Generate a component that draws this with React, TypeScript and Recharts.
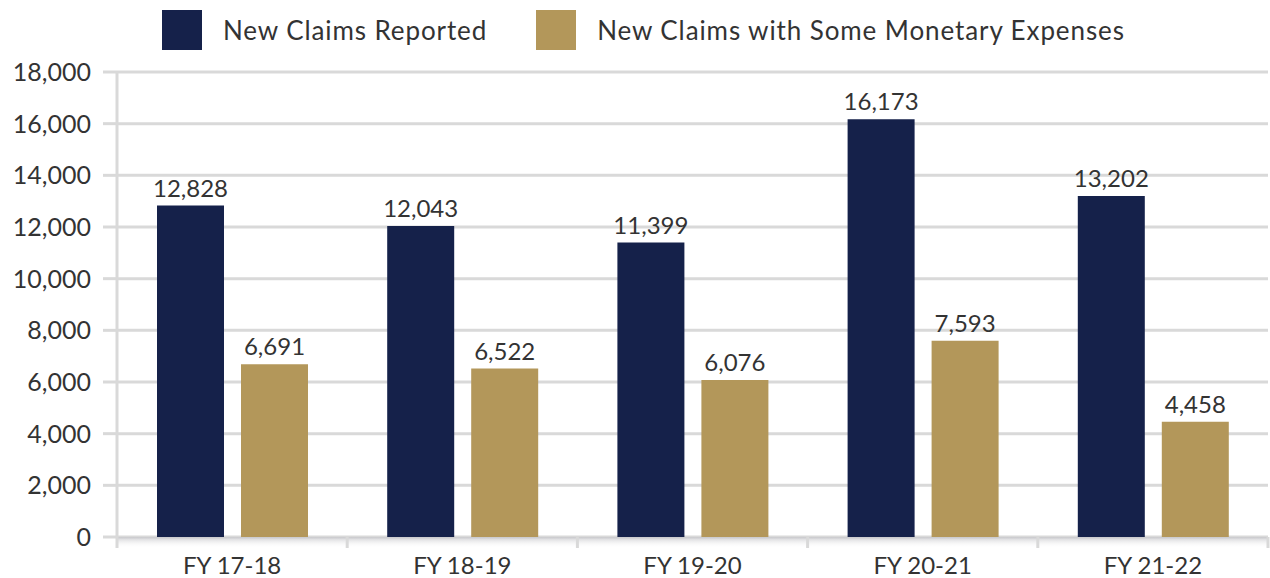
import { Bar, BarChart, CartesianGrid, LabelList, Legend, XAxis, YAxis } from "recharts";

const years = ["FY 17-18", "FY 18-19", "FY 19-20", "FY 20-21", "FY 21-22"];
const claimsReported = [12828, 12043, 11399, 16173, 13202];
const claimsWithExpenses = [6691, 6522, 6076, 7593, 4458];
const yTicks = [0, 2000, 4000, 6000, 8000, 10000, 12000, 14000, 16000, 18000];

const seriesNames = ["New Claims Reported", "New Claims with Some Monetary Expenses"];
const NAVY = "#15214a";
const GOLD = "#b3975a";
const GRID = "#d9d9d9";
const TEXT = "#333333";
const FONT = "Lato, 'Open Sans', sans-serif";

const W = 1270;
const H = 578;
const MARGIN = { top: 12, right: 2, bottom: 0, left: 0 };
const Y_AXIS_W = 117;
const STEP = (W - MARGIN.left - MARGIN.right - Y_AXIS_W) / years.length;

const data = years.map((year, i) => ({
  year,
  reported: claimsReported[i],
  expenses: claimsWithExpenses[i],
}));

const fmt = (v: number) => v.toLocaleString("en-US");

function LegendRow() {
  const items = [
    { name: seriesNames[0], color: NAVY },
    { name: seriesNames[1], color: GOLD },
  ];
  return (
    <div
      style={{
        height: 60,
        display: "flex",
        alignItems: "center",
        paddingLeft: 162,
        fontFamily: FONT,
        fontSize: 26,
        color: TEXT,
        letterSpacing: 0.9,
      }}
    >
      {items.map((it, i) => (
        <div key={it.name} style={{ display: "flex", alignItems: "center", marginRight: i === 0 ? 49 : 0 }}>
          <span style={{ width: 40, height: 40, background: it.color, display: "inline-block", marginRight: 21 }} />
          <span>{it.name}</span>
        </div>
      ))}
    </div>
  );
}

// category label plus the shaded floor and boundary ticks under each category
function CategoryTick(props: any) {
  const { x, y, payload, index } = props;
  const left = x - STEP / 2;
  const right = x + STEP / 2;
  return (
    <g>
      <rect x={left} y={y} width={STEP} height={11} fill="url(#floorShade)" />
      <line x1={left} x2={left} y1={y} y2={y + 11} stroke={GRID} strokeWidth={3} />
      {index === years.length - 1 && (
        <line x1={right} x2={right} y1={y} y2={y + 11} stroke={GRID} strokeWidth={3} />
      )}
      <text x={x} y={y + 37} textAnchor="middle" fill={TEXT} fontSize={24} fontFamily={FONT}>
        {payload.value}
      </text>
    </g>
  );
}

export default function App() {
  return (
    <div style={{ position: "absolute", left: 0, top: 0, width: W, height: H, background: "#fff" }}>
      <BarChart width={W} height={H} data={data} margin={MARGIN} barGap={17}>
        <defs>
          <linearGradient id="floorShade" x1="0" y1="0" x2="0" y2="1">
            <stop offset="0%" stopColor="#c8c8cc" stopOpacity={0.9} />
            <stop offset="100%" stopColor="#ffffff" stopOpacity={0} />
          </linearGradient>
        </defs>
        <Legend verticalAlign="top" content={() => <LegendRow />} wrapperStyle={{ top: 0, left: 0, width: W }} />
        <CartesianGrid vertical={false} stroke={GRID} strokeWidth={3} />
        <XAxis
          dataKey="year"
          height={41}
          axisLine={false}
          tickLine={false}
          tickSize={0}
          tickMargin={0}
          interval={0}
          tick={<CategoryTick />}
        />
        <YAxis
          width={Y_AXIS_W}
          domain={[0, 18000]}
          ticks={yTicks}
          tickFormatter={fmt}
          axisLine={{ stroke: GRID, strokeWidth: 3 }}
          tickLine={{ stroke: GRID, strokeWidth: 3 }}
          tickSize={14}
          tickMargin={12}
          tick={{ fill: TEXT, fontSize: 25, fontFamily: FONT }}
        />
        <Bar dataKey="reported" name={seriesNames[0]} fill={NAVY} barSize={67} isAnimationActive={false}>
          <LabelList dataKey="reported" position="top" offset={9} formatter={fmt} fill={TEXT} fontSize={24} fontFamily={FONT} />
        </Bar>
        <Bar dataKey="expenses" name={seriesNames[1]} fill={GOLD} barSize={67} isAnimationActive={false}>
          <LabelList dataKey="expenses" position="top" offset={9} formatter={fmt} fill={TEXT} fontSize={24} fontFamily={FONT} />
        </Bar>
      </BarChart>
    </div>
  );
}
